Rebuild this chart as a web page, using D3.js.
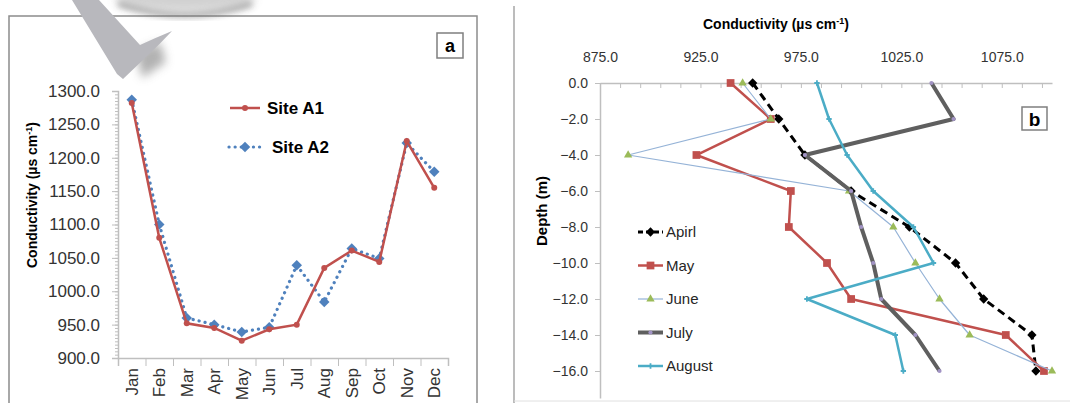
<!DOCTYPE html>
<html lang="en">
<head>
<meta charset="UTF-8">
<title>Conductivity</title>
<script src="https://cdn.jsdelivr.net/npm/d3@7"></script>
<style>
    body{ margin:0; background:#fff; }
    svg{ display:block; font-family:"Liberation Sans", Arial, sans-serif; }
    .axis path, .axis line{ stroke:#bfbfbf; }
    .axis text{ fill:#333; }
</style>
</head>
<body>
<script>
    // panel a: monthly conductivity
    const months = ["Jan","Feb","Mar","Apr","May","Jun","Jul","Aug","Sep","Oct","Nov","Dec"]
    const siteA1 = [1282,1080,952,945,926,943,950,1035,1061,1044,1225,1155]
    const siteA2 = [1287,1100,960,950,939,946,1039,984,1064,1049,1222,1179]
    const ticksA = [900,950,1000,1050,1100,1150,1200,1250,1300]

    // panel b: depth profiles
    const depths = [0,-2,-4,-6,-8,-10,-12,-14,-16]
    const april  = [951,964,977,1000,1029,1052,1066,1090,1092]
    const may    = [940,960,923,970,969,988,1000,1077,1096]
    const june   = [946,960,889,999,1021,1032,1044,1059,1100]
    const july   = [1040,1051,977,1000,1005,1011,1015,1032,1044]
    const august = [983,989,998,1011,1031,1041,978,1022,1026]
    const seriesNames = ["Apirl","May","June","July","August"]
    const ticksBx = [875,925,975,1025,1075]
    const ticksBy = [0,-2,-4,-6,-8,-10,-12,-14,-16]

    const width = 1070, height = 403
    const svg = d3.select("body").append("svg")
        .attr("width", width).attr("height", height)

    const defs = svg.append("defs")
    defs.append("filter").attr("id","blur").attr("x","-50%").attr("y","-50%")
        .attr("width","200%").attr("height","200%")
        .append("feGaussianBlur").attr("stdDeviation", 5)
    defs.append("filter").attr("id","blur2").attr("x","-50%").attr("y","-50%")
        .attr("width","200%").attr("height","200%")
        .append("feGaussianBlur").attr("stdDeviation", 3)

    // ---------- panel a ----------
    svg.append("rect").attr("x",9).attr("y",16).attr("width",468).attr("height",400)
        .attr("fill","none").attr("stroke","#8c8c8c").attr("stroke-width",1.5)

    const xA = d3.scaleBand().domain(months).range([118,448])
    const yA = d3.scaleLinear().domain([900,1300]).range([358,91])
    const fmt = d3.format(".1f")

    const gA = svg.append("g")

    // minor ticks
    gA.append("g").attr("class","axis").attr("transform","translate(118,0)")
        .call(d3.axisLeft(yA).tickValues(d3.range(900,1301,5)).tickSize(3).tickFormat(""))
        .call(g=>g.select(".domain").remove())

    gA.append("g").attr("class","axis").attr("transform","translate(118,0)")
        .call(d3.axisLeft(yA).tickValues(ticksA).tickSize(6).tickPadding(12).tickFormat(fmt))
        .call(g=>g.selectAll("text").style("font-size","17px"))
        .call(g=>g.select(".domain").attr("stroke-width",1.5))

    // category boundary ticks
    const xEdge = d3.scaleLinear().domain([0,months.length]).range(xA.range())
    gA.append("g").attr("class","axis").attr("transform","translate(0,358)")
        .call(d3.axisBottom(xEdge).tickValues(d3.range(0,months.length+1)).tickSize(8).tickFormat(""))
        .call(g=>g.select(".domain").attr("stroke-width",1.5))

    gA.append("g").attr("class","axis").attr("transform","translate(0,358)")
        .call(d3.axisBottom(xA).tickSize(0))
        .call(g=>g.select(".domain").remove())
        .call(g=>g.selectAll("text")
            .attr("transform","rotate(-90)")
            .attr("x",-10).attr("y",0).attr("dy","0.35em")
            .attr("text-anchor","end")
            .style("font-size","17px"))

    svg.append("text")
        .attr("transform","translate(37,195) rotate(-90)")
        .attr("text-anchor","middle")
        .attr("font-weight","bold").attr("font-size","14px")
        .html('Conductivity (µs cm<tspan dy="-5" font-size="9px">-1</tspan><tspan dy="5">)</tspan>')

    const cx = (d,i)=> xA(months[i]) + xA.bandwidth()/2
    const lineA = d3.line().x(cx).y(d=>yA(d))

    gA.append("path").datum(siteA2).attr("d",lineA)
        .attr("fill","none").attr("stroke","#4f81bd").attr("stroke-width",3.2)
        .attr("stroke-dasharray","0.1 6").attr("stroke-linecap","round")
    gA.selectAll(".a2").data(siteA2).enter().append("path")
        .attr("transform",(d,i)=>`translate(${cx(d,i)},${yA(d)})`)
        .attr("d",d3.symbol(d3.symbolDiamond2, 70)).attr("fill","#4f81bd")

    gA.append("path").datum(siteA1).attr("d",lineA)
        .attr("fill","none").attr("stroke","#c0504d").attr("stroke-width",2.5)
    gA.selectAll(".a1").data(siteA1).enter().append("circle")
        .attr("cx",cx).attr("cy",d=>yA(d)).attr("r",3).attr("fill","#c0504d")

    // legend a
    const legA = svg.append("g")
    legA.append("line").attr("x1",230).attr("x2",260).attr("y1",108).attr("y2",108)
        .attr("stroke","#c0504d").attr("stroke-width",2.5)
    legA.append("circle").attr("cx",245).attr("cy",108).attr("r",3).attr("fill","#c0504d")
    legA.append("text").attr("x",267).attr("y",108).attr("dy","0.35em")
        .attr("font-weight","bold").attr("font-size","17px").text("Site A1")
    legA.append("line").attr("x1",229).attr("x2",260).attr("y1",147).attr("y2",147)
        .attr("stroke","#4f81bd").attr("stroke-width",3.2)
        .attr("stroke-dasharray","0.1 6").attr("stroke-linecap","round")
    legA.append("path").attr("transform","translate(245,147)")
        .attr("d",d3.symbol(d3.symbolDiamond2,70)).attr("fill","#4f81bd")
    legA.append("text").attr("x",272).attr("y",147).attr("dy","0.35em")
        .attr("font-weight","bold").attr("font-size","17px").text("Site A2")

    svg.append("rect").attr("x",437).attr("y",33).attr("width",26).attr("height",25)
        .attr("fill","#fff").attr("stroke","#7f7f7f").attr("stroke-width",1.5)
    svg.append("text").attr("x",450).attr("y",46).attr("dy","0.35em").attr("text-anchor","middle")
        .attr("font-weight","bold").attr("font-size","18px").text("a")

    // page-curl smudge at the top
    svg.append("ellipse").attr("cx",185).attr("cy",-2).attr("rx",70).attr("ry",13)
        .attr("fill","#9a9a9a").attr("opacity",0.45).attr("filter","url(#blur)")
    svg.append("path").attr("d","M118,4 Q185,26 252,4")
        .attr("fill","none").attr("stroke","#666").attr("stroke-width",5)
        .attr("opacity",0.55).attr("filter","url(#blur2)")
    svg.append("path").attr("d","M136,52 L160,42 L166,62 L142,78 Z")
        .attr("fill","#666").attr("opacity",0.5).attr("filter","url(#blur)")
    svg.append("path")
        .attr("d","M72,0 L99,0 L140,45 Q155,38 172,31 Q160,44 145,58 L123,79 L117,74 Z")
        .attr("fill","#b8b8bd")

    // ---------- panel b ----------
    svg.append("line").attr("x1",514).attr("x2",514).attr("y1",6).attr("y2",403)
        .attr("stroke","#a6a6a6").attr("stroke-width",1.5)
    svg.append("line").attr("x1",514).attr("x2",1070).attr("y1",401).attr("y2",401)
        .attr("stroke","#e0e0e0").attr("stroke-width",1)

    const xB = d3.scaleLinear().domain([875,1100]).range([600,1052])
    const yB = d3.scaleLinear().domain([0,-17.5]).range([83,398])
    const gB = svg.append("g")

    gB.append("g").attr("class","axis").attr("transform","translate(0,83)")
        .call(d3.axisTop(xB).tickValues(d3.range(875,1100,10)).tickSizeInner(-5).tickSizeOuter(0).tickFormat(""))
        .call(g=>g.select(".domain").attr("stroke-width",1.5))
    gB.append("g").attr("class","axis").attr("transform","translate(0,83)")
        .call(d3.axisTop(xB).tickValues(ticksBx).tickSize(0).tickPadding(21).tickFormat(fmt))
        .call(g=>g.select(".domain").remove())
        .call(g=>g.selectAll("text").style("font-size","14px"))

    gB.append("g").attr("class","axis").attr("transform","translate(600,0)")
        .call(d3.axisLeft(yB).tickValues(ticksBy).tickSizeInner(5).tickSizeOuter(0).tickPadding(7).tickFormat(fmt))
        .call(g=>g.select(".domain").attr("stroke-width",1.5))
        .call(g=>g.selectAll("text").style("font-size","14px"))

    svg.append("text").attr("x",776).attr("y",24).attr("dy","0.35em").attr("text-anchor","middle")
        .attr("font-weight","bold").attr("font-size","14px")
        .html('Conductivity (µs cm<tspan dy="-5" font-size="9px">-1</tspan><tspan dy="5">)</tspan>')
    svg.append("text")
        .attr("transform","translate(542,211) rotate(-90)")
        .attr("text-anchor","middle").attr("dy","0.35em")
        .attr("font-weight","bold").attr("font-size","15px").text("Depth (m)")

    const profiles = [april, may, june, july, august]
    const styles = [
        {stroke:"#000000", width:3, dash:"8 5", sym:d3.symbolDiamond2, size:55, fill:"#000000"},
        {stroke:"#c0504d", width:2.5, dash:null, sym:d3.symbolSquare, size:60, fill:"#c0504d"},
        {stroke:"#95b3d7", width:1.2, dash:null, sym:d3.symbolTriangle, size:30, fill:"#9bbb59"},
        {stroke:"#5f5f5f", width:4, dash:null, sym:d3.symbolCircle, size:14, fill:"#a193c4"},
        {stroke:"#4bacc6", width:2.5, dash:null, sym:d3.symbolCross, size:16, fill:"#4bacc6"}
    ]

    const lineB = d3.line().x(d=>xB(d)).y((d,i)=>yB(depths[i]))

    profiles.forEach((vals,k)=>{
        const s = styles[k]
        gB.append("path").datum(vals).attr("d",lineB)
            .attr("fill","none").attr("stroke",s.stroke).attr("stroke-width",s.width)
            .attr("stroke-dasharray",s.dash).attr("stroke-linejoin","round")
        gB.selectAll(null).data(vals).enter().append("path")
            .attr("transform",(d,i)=>`translate(${xB(d)},${yB(depths[i])})`)
            .attr("d",d3.symbol(s.sym,s.size)).attr("fill",s.fill)
    })

    // legend b
    const legB = svg.append("g")
    seriesNames.forEach((name,k)=>{
        const s = styles[k], y = 232 + k*33.5
        legB.append("line").attr("x1",638).attr("x2",663).attr("y1",y).attr("y2",y)
            .attr("stroke",s.stroke).attr("stroke-width",s.width)
            .attr("stroke-dasharray",s.dash ? "5 3" : null)
        legB.append("path").attr("transform",`translate(650.5,${y})`)
            .attr("d",d3.symbol(s.sym,s.size)).attr("fill",s.fill)
        legB.append("text").attr("x",666).attr("y",y).attr("dy","0.35em")
            .attr("font-size","15px").attr("fill","#262626").text(name)
    })

    svg.append("rect").attr("x",1022).attr("y",107).attr("width",25).attr("height",23)
        .attr("fill","#fff").attr("stroke","#7f7f7f").attr("stroke-width",1.5)
    svg.append("text").attr("x",1034.5).attr("y",119).attr("dy","0.35em").attr("text-anchor","middle")
        .attr("font-weight","bold").attr("font-size","19px").text("b")
</script>
</body>
</html>
